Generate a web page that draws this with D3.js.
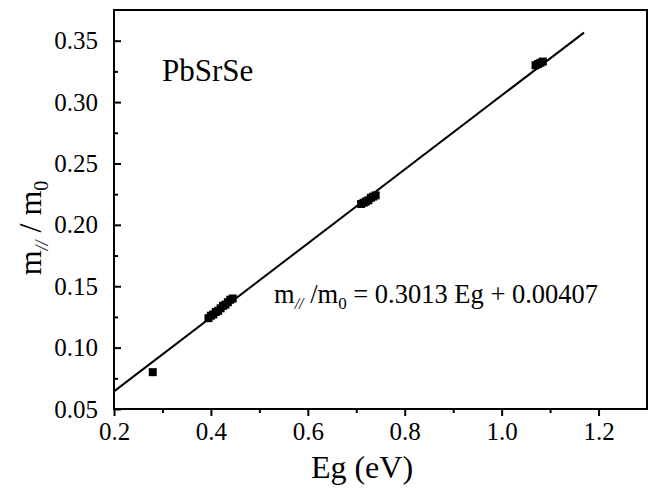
<!DOCTYPE html>
<html>
<head>
<meta charset="utf-8">
<script src="https://cdn.jsdelivr.net/npm/d3@7"></script>
<style>
  body { margin: 0; background: #fff; }
  svg text { font-family: "Liberation Serif", "DejaVu Serif", "Times New Roman", Times, serif !important; fill: #000; }
</style>
</head>
<body>
<div id="chart"></div>
<script>
/* measured points: Eg (eV) and m_par / m0 */
const egValues   = [0.28,
  0.395, 0.400, 0.405, 0.410, 0.415, 0.420, 0.425, 0.430, 0.435, 0.440, 0.445,
  0.710, 0.715, 0.720, 0.725, 0.730, 0.735, 0.740,
  1.070, 1.075, 1.080, 1.085];
const massValues = [0.080,
  0.124, 0.126, 0.127, 0.129, 0.130, 0.132, 0.134, 0.135, 0.137, 0.139, 0.140,
  0.217, 0.218, 0.219, 0.220, 0.222, 0.223, 0.224,
  0.330, 0.331, 0.332, 0.333];

const fitSlope     = 0.3013;
const fitIntercept = 0.00407;
const fitRange     = [0.2, 1.17];

const xTicks = [0.2, 0.4, 0.6, 0.8, 1.0, 1.2];
const yTicks = [0.05, 0.10, 0.15, 0.20, 0.25, 0.30, 0.35];

const width  = 652,
      height = 491;
const margin = { top: 10, right: 5, bottom: 82, left: 114 };

const x = d3.scaleLinear([0.2, 1.3], [margin.left, width - margin.right]);
const y = d3.scaleLinear([0.05, 0.375], [height - margin.bottom, margin.top]);

const svg = d3.select("#chart").append("svg")
  .attr("width", width)
  .attr("height", height);

/* bottom axis: ticks hang outside */
const xAxis = svg.append("g")
  .attr("transform", `translate(0,${height - margin.bottom})`);
xAxis.call(d3.axisBottom(x).tickValues(d3.range(0.3, 1.3, 0.2)).tickSize(4).tickFormat(""))
  .call(g => g.select(".domain").remove());
xAxis.append("g")
  .call(d3.axisBottom(x).tickValues(xTicks).tickSize(7).tickPadding(6).tickFormat(d3.format(".1f")))
  .call(g => g.select(".domain").remove())
  .call(g => g.selectAll("text").attr("font-size", 25));
xAxis.selectAll("line").attr("stroke", "#000").attr("stroke-width", 2);

/* left axis: ticks point inward */
const yAxis = svg.append("g")
  .attr("transform", `translate(${margin.left},0)`);
yAxis.call(d3.axisLeft(y).tickValues(d3.range(0.075, 0.375, 0.05)).tickSize(-4).tickFormat(""))
  .call(g => g.select(".domain").remove());
yAxis.append("g")
  .call(d3.axisLeft(y).tickValues(yTicks).tickSize(-7).tickPadding(16).tickFormat(d3.format(".2f")))
  .call(g => g.select(".domain").remove())
  .call(g => g.selectAll("text").attr("font-size", 25));
yAxis.selectAll("line").attr("stroke", "#000").attr("stroke-width", 2);

/* frame */
svg.append("rect")
  .attr("x", x(0.2))
  .attr("y", y(0.375))
  .attr("width", x(1.3) - x(0.2))
  .attr("height", y(0.05) - y(0.375))
  .attr("fill", "none")
  .attr("stroke", "#000")
  .attr("stroke-width", 2);

/* fit line */
svg.append("line")
  .attr("x1", x(fitRange[0]))
  .attr("y1", y(fitSlope * fitRange[0] + fitIntercept))
  .attr("x2", x(fitRange[1]))
  .attr("y2", y(fitSlope * fitRange[1] + fitIntercept))
  .attr("stroke", "#000")
  .attr("stroke-width", 2);

/* points */
const pts = egValues.map((e, i) => ({ e, m: massValues[i] }));
const sq = 8;
svg.append("g")
  .selectAll("rect")
  .data(pts)
  .join("rect")
    .attr("x", d => x(d.e) - sq / 2)
    .attr("y", d => y(d.m) - sq / 2)
    .attr("width", sq)
    .attr("height", sq)
    .attr("fill", "#000");

/* labels */
svg.append("text")
  .attr("x", 162)
  .attr("y", 81)
  .attr("font-size", 31)
  .text("PbSrSe");

svg.append("text")
  .attr("x", 362)
  .attr("y", 478)
  .attr("text-anchor", "middle")
  .attr("font-size", 32)
  .text("Eg (eV)");

const yl = svg.append("text")
  .attr("transform", `translate(41,228) rotate(-90)`)
  .attr("text-anchor", "middle")
  .attr("font-size", 32);
yl.append("tspan").text("m");
yl.append("tspan").attr("font-size", 18).attr("font-style", "italic").attr("dy", 7).text("//");
yl.append("tspan").attr("dy", -7).text(" / m");
yl.append("tspan").attr("font-size", 20).attr("dy", 7).text("0");

const eq = svg.append("text")
  .attr("x", 274)
  .attr("y", 303)
  .attr("font-size", 26.5);
eq.append("tspan").text("m");
eq.append("tspan").attr("font-size", 16).attr("font-style", "italic").attr("dy", 6).text("//");
eq.append("tspan").attr("dy", -6).text(" /m");
eq.append("tspan").attr("font-size", 17).attr("dy", 6).text("0");
eq.append("tspan").attr("dy", -6).text(` = ${fitSlope} Eg + ${fitIntercept}`);
</script>
</body>
</html>
